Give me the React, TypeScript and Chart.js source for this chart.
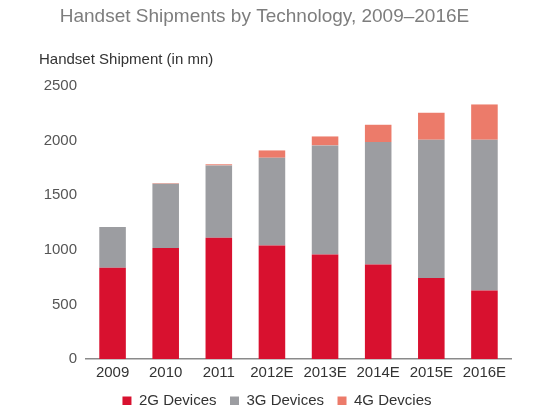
import React, { useEffect, useRef } from "react";
import { Chart, registerables } from "chart.js";

Chart.register(...registerables);

const categories = ["2009", "2010", "2011", "2012E", "2013E", "2014E", "2015E", "2016E"];
const devices2G = [836, 1016, 1111, 1040, 958, 866, 741, 628];
const devices3G = [372, 589, 662, 803, 998, 1121, 1267, 1380];
const devices4G = [0, 5, 10, 67, 82, 158, 247, 323];
const seriesLabels = ["2G Devices", "3G Devices", "4G Devcies"];
const yTickValues = [0, 500, 1000, 1500, 2000, 2500];
const chartTitle = "Handset Shipments by Technology, 2009–2016E";
const yAxisTitle = "Handset Shipment (in mn)";

const FONT = "'Liberation Sans', Arial, Helvetica, sans-serif";

const headerPlugin = {
  id: "headerText",
  afterDraw(chart: any) {
    const ctx = chart.ctx;
    ctx.save();
    ctx.textBaseline = "middle";
    ctx.font = `19px ${FONT}`;
    ctx.fillStyle = "#7d7d7d";
    ctx.textAlign = "center";
    ctx.fillText(chartTitle, 256.5, 9);
    ctx.font = `15px ${FONT}`;
    ctx.fillStyle = "#333333";
    ctx.textAlign = "left";
    ctx.fillText(yAxisTitle, 31, 52);
    ctx.restore();
  },
};

export default function App() {
  const ref = useRef<HTMLCanvasElement | null>(null);

  useEffect(() => {
    if (!ref.current) return;
    const chart = new Chart(ref.current, {
      type: "bar",
      data: {
        labels: categories,
        datasets: [
          { label: seriesLabels[0], data: devices2G, backgroundColor: "#d8112f" },
          { label: seriesLabels[1], data: devices3G, backgroundColor: "#9c9da1" },
          { label: seriesLabels[2], data: devices4G, backgroundColor: "#ec7b6a" },
        ],
      },
      options: {
        animation: false,
        responsive: true,
        maintainAspectRatio: false,
        layout: { padding: { left: 35, right: 31, top: 78, bottom: 0 } },
        datasets: { bar: { barPercentage: 0.5, categoryPercentage: 1 } },
        plugins: {
          title: { display: false },
          tooltip: { enabled: false },
          legend: {
            position: "bottom",
            maxHeight: 25,
            labels: {
              boxWidth: 9,
              boxHeight: 9,
              padding: 13.5,
              color: "#333333",
              font: { size: 15, family: FONT },
            },
          },
        },
        scales: {
          x: {
            stacked: true,
            grid: { display: false, drawTicks: false },
            border: { display: true, color: "#8a8a8a", width: 1.5 },
            ticks: {
              color: "#333333",
              padding: 8,
              font: { size: 15, family: FONT, lineHeight: 0.8 },
            },
            afterFit: (s: any) => {
              s.height = 21;
            },
          },
          y: {
            stacked: true,
            min: 0,
            max: 2500,
            grid: { display: false, drawTicks: false },
            border: { display: false },
            afterBuildTicks: (s: any) => {
              s.ticks = yTickValues.map((v) => ({ value: v }));
            },
            afterFit: (s: any) => {
              s.width = 43;
            },
            ticks: {
              color: "#555555",
              padding: 9,
              font: { size: 15, family: FONT },
              callback: (v: any) => String(v),
            },
          },
        },
      },
      plugins: [headerPlugin],
    });
    return () => chart.destroy();
  }, []);

  return (
    <div style={{ width: 534, height: 397, position: "relative" }}>
      <canvas ref={ref} />
    </div>
  );
}
